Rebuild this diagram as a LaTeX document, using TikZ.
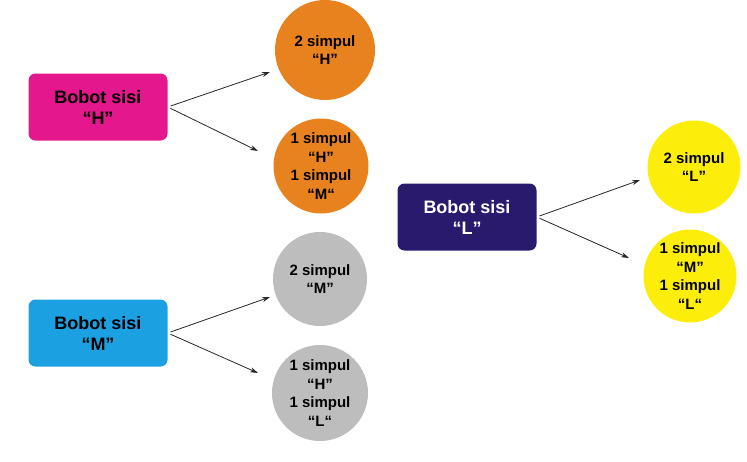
\documentclass[tikz,border=0pt]{standalone}
\usepackage{fontspec}
\setmainfont{Liberation Sans}
\usetikzlibrary{arrows.meta}
\definecolor{cmag}{HTML}{E5178C}
\definecolor{corange}{HTML}{E8821E}
\definecolor{cgrey}{HTML}{BDBDBD}
\definecolor{ccyan}{HTML}{1BA1E2}
\definecolor{cnavy}{HTML}{2A1A6E}
\definecolor{cyellow}{HTML}{FCEE0A}
\begin{document}
\begin{tikzpicture}[x=1pt,y=-1pt,
  wbox/.style={rounded corners=7pt, minimum width=139pt, minimum height=67pt, align=center,
    font=\fontsize{18}{21}\selectfont\bfseries, inner sep=0pt},
  ball/.style={circle, minimum size=#1, inner sep=0pt, align=center,
    font=\fontsize{15}{18.5}\selectfont\bfseries},
  arr/.style={-{Stealth[length=8pt,width=5pt]}, line width=0.8pt, black!85, shorten <=3pt}]
\useasboundingbox (0,0) rectangle (747,461);
\node[wbox, fill=cmag] (bh) at (98,107) {Bobot sisi\\“H”};
\node[wbox, fill=ccyan] (bm) at (98,333) {Bobot sisi\\“M”};
\node[wbox, fill=cnavy, text=white] (bl) at (467,217) {Bobot sisi\\“L”};
\node[ball=100pt, fill=corange] (h1) at (325,50) {2 simpul\\“H”};
\node[ball=95pt, fill=corange] (h2) at (321,166) {1 simpul\\“H”\\1 simpul\\“M“};
\node[ball=94pt, fill=cgrey] (m1) at (320,279) {2 simpul\\“M”};
\node[ball=96pt, fill=cgrey] (m2) at (320,393) {1 simpul\\“H”\\1 simpul\\“L“};
\node[ball=93pt, fill=cyellow] (l1) at (694,167) {2 simpul\\“L”};
\node[ball=93pt, fill=cyellow] (l2) at (690,276) {1 simpul\\“M”\\1 simpul\\“L“};
\coordinate (th1) at (270,72);
\coordinate (th2) at (258,151);
\coordinate (tm1) at (270,297);
\coordinate (tm2) at (258,373);
\coordinate (tl1) at (640,180);
\coordinate (tl2) at (629,258);
\draw[arr] (bh.east) -- (th1);
\draw[arr] (bh.east) -- (th2);
\draw[arr] (bm.east) -- (tm1);
\draw[arr] (bm.east) -- (tm2);
\draw[arr] (bl.east) -- (tl1);
\draw[arr] (bl.east) -- (tl2);
\end{tikzpicture}
\end{document}
